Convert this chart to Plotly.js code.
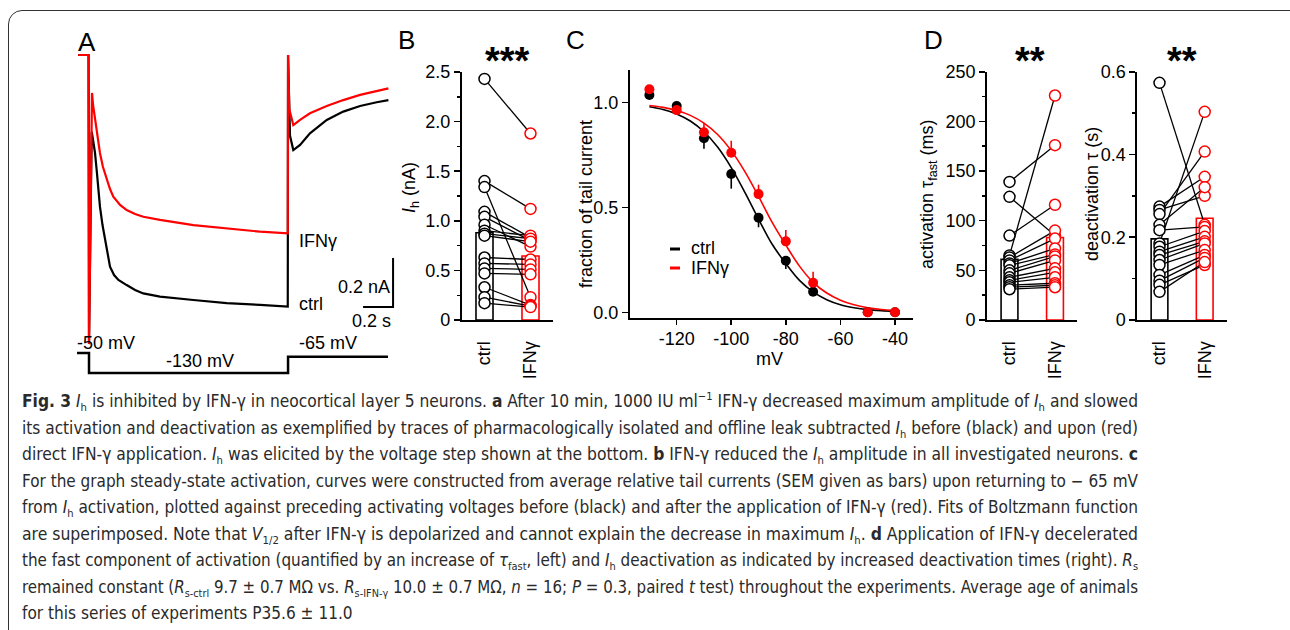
<!DOCTYPE html>
<html><head><meta charset="utf-8">
<script src="https://cdn.plot.ly/plotly-3.0.1.min.js"></script>
<style>
html,body{margin:0;padding:0;background:#fff;width:1290px;height:630px;overflow:hidden;}
#chart{position:absolute;left:0;top:0;width:1290px;height:630px;}
#frame{position:absolute;left:8px;top:10px;width:1300px;height:700px;border:1.6px solid #333;border-radius:14px;box-sizing:border-box;pointer-events:none;}
#caption{position:absolute;left:22px;top:388px;font-family:"Liberation Sans Narrow","DejaVu Sans Condensed","Open Sans",sans-serif;font-size:17px;line-height:26.5px;color:#2a2a2a;}
#caption .ln{white-space:nowrap;height:26.5px;}
#caption .ln span.in{display:inline-block;transform-origin:0 50%;}
#caption sub,#caption sup{font-size:11px;line-height:0;}
</style></head>
<body>
<div id="chart"></div>
<div id="frame"></div>
<div id="caption">
<div class="ln"><span class="in"><b>Fig. 3</b> <i>I</i><sub>h</sub> is inhibited by IFN-γ in neocortical layer 5 neurons. <b>a</b> After 10 min, 1000 IU ml<sup>−1</sup> IFN-γ decreased maximum amplitude of <i>I</i><sub>h</sub> and slowed</span></div>
<div class="ln"><span class="in">its activation and deactivation as exemplified by traces of pharmacologically isolated and offline leak subtracted <i>I</i><sub>h</sub> before (black) and upon (red)</span></div>
<div class="ln"><span class="in">direct IFN-γ application. <i>I</i><sub>h</sub> was elicited by the voltage step shown at the bottom. <b>b</b> IFN-γ reduced the <i>I</i><sub>h</sub> amplitude in all investigated neurons. <b>c</b></span></div>
<div class="ln"><span class="in">For the graph steady-state activation, curves were constructed from average relative tail currents (SEM given as bars) upon returning to − 65 mV</span></div>
<div class="ln"><span class="in">from <i>I</i><sub>h</sub> activation, plotted against preceding activating voltages before (black) and after the application of IFN-γ (red). Fits of Boltzmann function</span></div>
<div class="ln"><span class="in">are superimposed. Note that <i>V</i><sub>1/2</sub> after IFN-γ is depolarized and cannot explain the decrease in maximum <i>I</i><sub>h</sub>. <b>d</b> Application of IFN-γ decelerated</span></div>
<div class="ln"><span class="in">the fast component of activation (quantified by an increase of <i>τ</i><sub>fast</sub>, left) and <i>I</i><sub>h</sub> deactivation as indicated by increased deactivation times (right). <i>R</i><sub>s</sub></span></div>
<div class="ln"><span class="in">remained constant (<i>R</i><sub>s-ctrl</sub> 9.7 ± 0.7 MΩ vs. <i>R</i><sub>s-IFN-γ</sub> 10.0 ± 0.7 MΩ, <i>n</i> = 16; <i>P</i> = 0.3, paired <i>t</i> test) throughout the experiments. Average age of animals</span></div>
<div class="ln"><span class="in">for this series of experiments P35.6 ± 11.0</span></div>
</div>
<script>
// ---------------- DATA ----------------
// Panel A: example traces (time in s from step onset, current in nA relative to holding)
const traceTimeCtrl = [-0.073,-0.003,0.000,0.018,0.027,0.040,0.051,0.063,0.073,0.090,0.107,0.123,0.140,0.167,0.196,0.251,0.307,0.362,0.473,0.696,0.918,1.140,1.325,1.327,1.340,1.362,1.407,1.473,1.585,1.695,1.807,1.918,1.996];
const traceCurrentCtrl = [0,0,-1.18,-0.313,-0.347,-0.40,-0.469,-0.551,-0.619,-0.694,-0.755,-0.816,-0.864,-0.898,-0.918,-0.939,-0.959,-0.973,-0.986,-1.0,-1.013,-1.02,-1.027,0.0,-0.33,-0.388,-0.367,-0.32,-0.265,-0.231,-0.208,-0.193,-0.184];
const traceTimeIfn = [-0.073,-0.003,0.000,0.020,0.027,0.040,0.057,0.073,0.093,0.118,0.140,0.162,0.207,0.251,0.307,0.362,0.473,0.696,0.918,1.140,1.325,1.327,1.335,1.362,1.407,1.473,1.585,1.695,1.807,1.918,1.996];
const traceCurrentIfn = [0,0,-1.18,-0.155,-0.204,-0.265,-0.339,-0.40,-0.457,-0.51,-0.547,-0.578,-0.612,-0.633,-0.649,-0.66,-0.673,-0.694,-0.707,-0.721,-0.728,0.0,-0.22,-0.286,-0.265,-0.238,-0.208,-0.184,-0.163,-0.147,-0.136];
const protocolTime = [-0.08,0,0,1.327,1.327,1.993];
const protocolVoltage = [-50,-50,-130,-130,-65,-65];
const scaleBarTime = [1.827,2.027,2.027];      // 0.2 s horizontal
const scaleBarCurrent = [-1.029,-1.029,-0.829]; // 0.2 nA vertical

// Panel B: Ih amplitude (nA), paired
const groups = ['ctrl','IFNγ'];
const ihCtrl = [2.43,1.40,1.34,1.09,1.04,0.96,0.90,0.87,0.85,0.63,0.57,0.52,0.47,0.33,0.23,0.17];
const ihIfn  = [1.88,1.12,0.23,0.83,0.80,0.74,0.85,0.82,0.79,0.61,0.56,0.51,0.46,0.15,0.14,0.13];
const ihMean = [0.88,0.645];

// Panel C: steady-state activation
const actVoltage = [-130,-120,-110,-100,-90,-80,-70,-50,-40];
const fracCtrl = [1.035,0.982,0.829,0.659,0.450,0.246,0.098,0.0,0.0];
const semCtrl  = [0.02,0.01,0.05,0.07,0.045,0.04,0.02,0,0];
const fracIfn  = [1.062,0.963,0.857,0.760,0.563,0.338,0.141,0.0,0.0];
const semIfn   = [0.01,0.01,0.045,0.057,0.045,0.054,0.052,0,0];
const fitVoltage = [-130,-125,-120,-115,-110,-105,-100,-95,-90,-85,-80,-75,-70,-65,-60,-55,-50,-45,-40];
const fitCtrl = [0.979,0.966,0.945,0.911,0.860,0.787,0.689,0.571,0.444,0.324,0.232,0.152,0.097,0.060,0.036,0.022,0.013,0.008,0.005];
const fitIfn  = [0.985,0.976,0.961,0.938,0.901,0.847,0.770,0.670,0.552,0.428,0.320,0.220,0.143,0.092,0.058,0.036,0.022,0.0135,0.008];
const voltTicks = [-120,-100,-80,-60,-40];
const voltTickText = ['-120','-100','-80','-60','-40'];

// Panel D: activation tau_fast (ms) and deactivation tau (s), paired
const tauActCtrl = [139,124,85,65,63,60,57,55,50,47,43,40,38,35,33,31];
const tauActIfn  = [176,85,116,226,90,82,72,66,64,60,52,48,43,37,35,33];
const tauActMean = [61,83];
const tauDeactCtrl = [0.573,0.274,0.266,0.256,0.230,0.217,0.185,0.177,0.165,0.157,0.145,0.133,0.109,0.095,0.085,0.068];
const tauDeactIfn  = [0.230,0.346,0.300,0.407,0.321,0.225,0.503,0.215,0.201,0.190,0.185,0.169,0.157,0.150,0.133,0.140];
const tauDeactMean = [0.196,0.246];

// ---------------- LAYOUT HELPERS ----------------
const W = 1290, H = 630;
const fx = px => px / W;
const fy = py => 1 - py / H;
const FONT = 'Liberation Sans, Arial, sans-serif';
const RED = '#ff0000';

function ann(text, px, py, size, xanchor, extra) {
  return Object.assign({text: text, xref: 'paper', yref: 'paper', x: fx(px), y: fy(py),
    showarrow: false, xanchor: xanchor || 'center', yanchor: 'middle',
    font: {family: FONT, size: size, color: '#000'}}, extra || {});
}
function pairLines(a, b) {
  const xs = [], ys = [];
  for (let i = 0; i < a.length; i++) { xs.push(0, 1, null); ys.push(a[i], b[i], null); }
  return {xs, ys};
}
function pairedPanel(xa, ya, ctrlVals, ifnVals, means) {
  const pl = pairLines(ctrlVals, ifnVals);
  return [
    {type: 'bar', x: [0, 1], y: means, width: 0.37, xaxis: xa, yaxis: ya,
     marker: {color: 'rgba(255,255,255,1)', line: {color: ['#000', RED], width: 1.6}}, hoverinfo: 'skip'},
    {type: 'scatter', mode: 'lines', x: pl.xs, y: pl.ys, xaxis: xa, yaxis: ya,
     line: {color: '#000', width: 1.3}, connectgaps: false, hoverinfo: 'skip'},
    {type: 'scatter', mode: 'markers', x: ctrlVals.map(() => 0), y: ctrlVals, xaxis: xa, yaxis: ya, cliponaxis: false,
     marker: {symbol: 'circle', size: 11, color: '#fff', line: {color: '#000', width: 1.5}}},
    {type: 'scatter', mode: 'markers', x: ifnVals.map(() => 1), y: ifnVals, xaxis: xa, yaxis: ya, cliponaxis: false,
     marker: {symbol: 'circle', size: 11, color: '#fff', line: {color: RED, width: 1.5}}}
  ];
}

const traces = [];
// Panel A
traces.push({type: 'scatter', mode: 'lines', x: traceTimeCtrl, y: traceCurrentCtrl, xaxis: 'x', yaxis: 'y',
  line: {color: '#000', width: 2.2}, cliponaxis: false});
traces.push({type: 'scatter', mode: 'lines', x: traceTimeIfn, y: traceCurrentIfn, xaxis: 'x', yaxis: 'y',
  line: {color: RED, width: 2.2}, cliponaxis: false});
traces.push({type: 'scatter', mode: 'lines', x: scaleBarTime, y: scaleBarCurrent, xaxis: 'x', yaxis: 'y',
  line: {color: '#000', width: 2}, cliponaxis: false});
traces.push({type: 'scatter', mode: 'lines', x: protocolTime, y: protocolVoltage, xaxis: 'x2', yaxis: 'y2',
  line: {color: '#000', width: 2.5}, cliponaxis: false});
// Panel B
traces.push(...pairedPanel('x3', 'y3', ihCtrl, ihIfn, ihMean));
// Panel C
traces.push({type: 'scatter', mode: 'lines', x: fitVoltage, y: fitCtrl, xaxis: 'x4', yaxis: 'y4',
  line: {color: '#000', width: 1.6, shape: 'spline'}});
traces.push({type: 'scatter', mode: 'lines', x: fitVoltage, y: fitIfn, xaxis: 'x4', yaxis: 'y4',
  line: {color: RED, width: 1.6, shape: 'spline'}});
traces.push({type: 'scatter', mode: 'markers', x: actVoltage, y: fracCtrl, xaxis: 'x4', yaxis: 'y4', cliponaxis: false,
  marker: {size: 10, color: '#000'},
  error_y: {type: 'data', symmetric: false, array: semCtrl.map(() => 0), arrayminus: semCtrl, color: '#000', thickness: 1.6, width: 0}});
traces.push({type: 'scatter', mode: 'markers', x: actVoltage, y: fracIfn, xaxis: 'x4', yaxis: 'y4', cliponaxis: false,
  marker: {size: 10, color: RED},
  error_y: {type: 'data', symmetric: false, array: semIfn, arrayminus: semIfn.map(() => 0), color: RED, thickness: 1.6, width: 0}});
// Panel D
traces.push(...pairedPanel('x5', 'y5', tauActCtrl, tauActIfn, tauActMean));
traces.push(...pairedPanel('x6', 'y6', tauDeactCtrl, tauDeactIfn, tauDeactMean));

const tickFont = {family: FONT, size: 18, color: '#000'};
function catX(c0, c1, yAnchor) {
  const s = c1 - c0;
  return {domain: [fx(c0 - 0.49 * s), fx(c1 + 0.49 * s)], range: [-0.49, 1.49], anchor: yAnchor,
    showline: true, linecolor: '#000', linewidth: 2, showgrid: false, zeroline: false,
    tickvals: [0, 1], ticktext: groups, tickangle: -90, ticks: '', ticklabelstandoff: 12,
    tickfont: tickFont, fixedrange: true};
}
function valY(top, bottom, range, tickvals, ticktext, minorDtick, xAnchor) {
  return {domain: [fy(bottom), fy(top)], range: range, anchor: xAnchor,
    showline: true, linecolor: '#000', linewidth: 2, showgrid: false, zeroline: false,
    tickvals: tickvals, ticktext: ticktext, ticks: 'outside', ticklen: 6, tickwidth: 1.6, tickcolor: '#000',
    tickfont: tickFont,
    minor: minorDtick ? {dtick: minorDtick, ticks: 'outside', ticklen: 3, tickwidth: 1.4, tickcolor: '#000', showgrid: false} : undefined,
    fixedrange: true};
}

const layout = {
  width: W, height: H, margin: {l: 0, r: 0, t: 0, b: 0},
  paper_bgcolor: '#fff', plot_bgcolor: 'rgba(0,0,0,0)', showlegend: false,
  font: {family: FONT, color: '#000'},
  xaxis: {domain: [fx(70), fx(400)], range: [-0.1267, 2.0733], visible: false, anchor: 'y'},
  yaxis: {domain: [fy(350), fy(30)], range: [-1.204, 0.102], visible: false, anchor: 'x'},
  xaxis2: {domain: [fx(70), fx(400)], range: [-0.1267, 2.0733], visible: false, anchor: 'y2'},
  yaxis2: {domain: [fy(380), fy(340)], range: [-158, 2], visible: false, anchor: 'x2'},
  xaxis3: catX(484.5, 530.5, 'y3'),
  yaxis3: valY(72, 320, [0, 2.5], [0, 0.5, 1, 1.5, 2, 2.5], ['0', '0.5', '1.0', '1.5', '2.0', '2.5'], 0.25, 'x3'),
  xaxis4: {domain: [fx(630), fx(913)], range: [-137.1, -33.4], anchor: 'y4',
    showline: true, linecolor: '#000', linewidth: 2, showgrid: false, zeroline: false,
    tickvals: voltTicks, ticktext: voltTickText, ticks: 'outside', ticklen: 5, tickwidth: 1.6, tickcolor: '#000',
    ticklabelstandoff: -2, tickfont: tickFont, fixedrange: true},
  yaxis4: valY(70, 318, [-0.027, 1.154], [0, 0.5, 1], ['0.0', '0.5', '1.0'], null, 'x4'),
  xaxis5: catX(1009.5, 1055, 'y5'),
  yaxis5: valY(71.7, 320, [0, 250], [0, 50, 100, 150, 200, 250], null, 25, 'x5'),
  xaxis6: catX(1159.5, 1204.7, 'y6'),
  yaxis6: valY(71.7, 320, [0, 0.6], [0, 0.2, 0.4, 0.6], ['0', '0.2', '0.4', '0.6'], 0.1, 'x6'),
  shapes: [
    {type: 'line', xref: 'paper', yref: 'paper', x0: fx(670), x1: fx(680), y0: fy(249), y1: fy(249), line: {color: '#000', width: 3}},
    {type: 'line', xref: 'paper', yref: 'paper', x0: fx(670), x1: fx(680), y0: fy(268), y1: fy(268), line: {color: RED, width: 3}}
  ],
  annotations: [
    ann('A', 87, 42, 26), ann('B', 406, 40, 26), ann('C', 575, 40, 26), ann('D', 933, 40, 26),
    ann('IFNγ', 297, 241, 18, 'left'), ann('ctrl', 297, 304, 18, 'left'),
    ann('0.2 nA', 392, 287, 18, 'right'), ann('0.2 s', 393, 321, 18, 'right'),
    ann('-50 mV', 106, 343, 18), ann('-130 mV', 200, 361, 18), ann('-65 mV', 328, 343, 18),
    ann('<b>***</b>', 507, 61, 38), ann('<b>**</b>', 1030, 61, 38), ann('<b>**</b>', 1182, 61, 38),
    ann('<i>I</i><sub>h</sub> (nA)', 410, 188, 18, 'center', {textangle: -90}),
    ann('fraction of tail current', 586, 204, 18, 'center', {textangle: -90}),
    ann('mV', 770, 359, 18),
    ann('ctrl', 689, 248, 18, 'left'), ann('IFNγ', 689, 268, 18, 'left'),
    ann('activation τ<sub>fast</sub> (ms)', 928, 195, 18, 'center', {textangle: -90}),
    ann('deactivation τ (s)', 1092, 194, 18, 'center', {textangle: -90})
  ]
};

Plotly.newPlot('chart', traces, layout, {staticPlot: true, displayModeBar: false});

// caption: fit each justified line to the column width
(function () {
  const target = 1116;
  const spans = document.querySelectorAll('#caption .ln span.in');
  const scales = [];
  spans.forEach((s, i) => {
    const w = s.getBoundingClientRect().width;
    if (i < spans.length - 1) { const k = target / w; scales.push(k); s.style.transform = 'scaleX(' + k + ')'; }
  });
  const avg = scales.reduce((a, b) => a + b, 0) / scales.length;
  spans[spans.length - 1].style.transform = 'scaleX(' + avg + ')';
})();
</script>
</body></html>
